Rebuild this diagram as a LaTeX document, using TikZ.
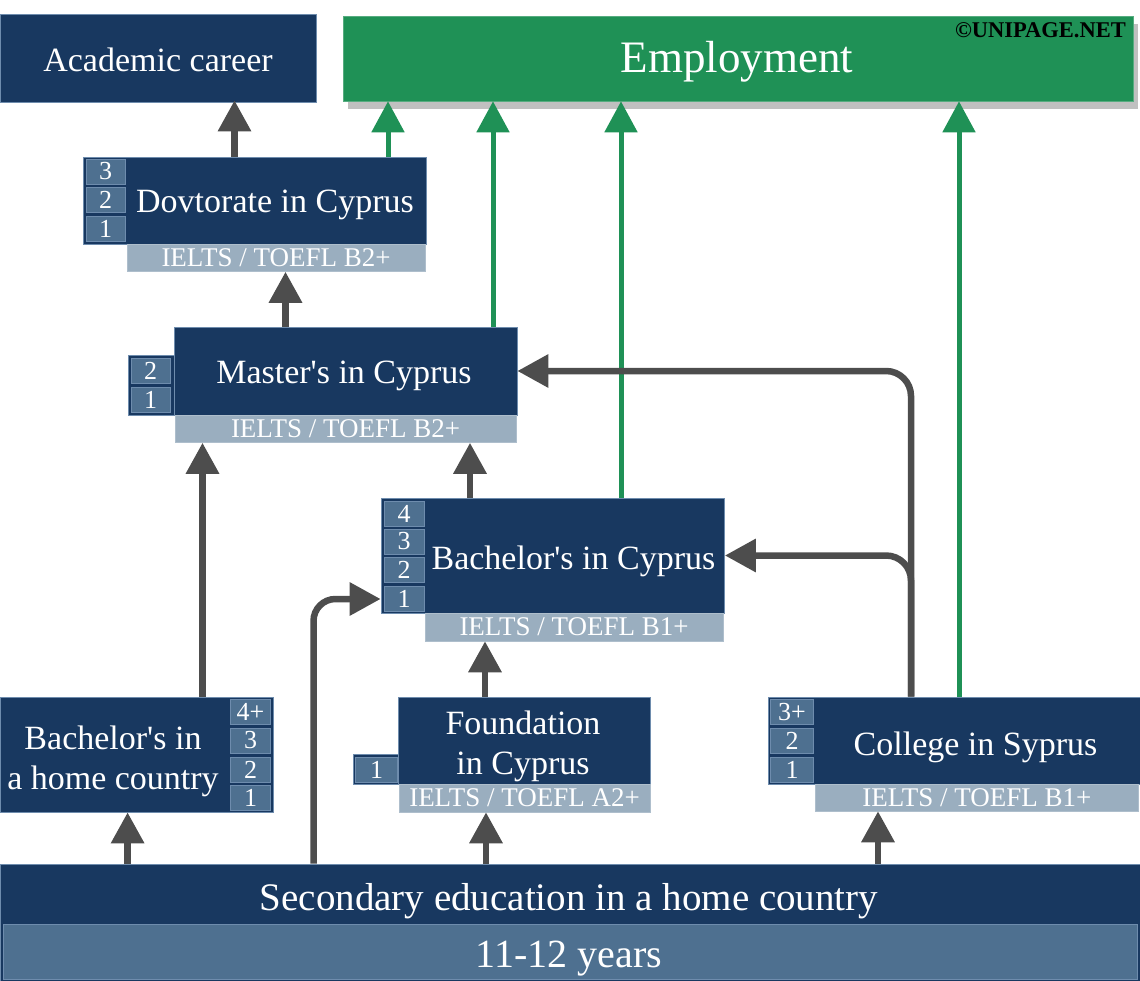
\documentclass[tikz,border=0pt]{standalone}
\usepackage{fontspec}
\setmainfont{Liberation Serif}[Ligatures=TeXOff]
\usetikzlibrary{arrows.meta}
\definecolor{navy}{HTML}{183860}
\definecolor{navyedge}{HTML}{6E8CAD}
\definecolor{cellc}{HTML}{4E7090}
\definecolor{ieltsc}{HTML}{9AAEBF}
\definecolor{grn}{HTML}{1F9156}
\definecolor{agray}{HTML}{4D4D4D}
\definecolor{shadowc}{HTML}{C0C0C0}
\begin{document}
\begin{tikzpicture}[x=1pt,y=-1pt,
  box/.style={fill=navy, draw=navyedge, line width=0.8pt, inner sep=0pt, text=white, font=\fontsize{34}{40}\selectfont},
  lbl/.style={inner sep=0pt, text=white, align=center, font=\fontsize{34}{40}\selectfont},
  ielts/.style={fill=ieltsc, draw=ieltsc!80!white, line width=0.6pt, inner sep=0pt, text=white, font=\fontsize{27}{30}\selectfont},
  cell/.style={fill=cellc, draw=navyedge, line width=0.6pt, inner sep=0pt, minimum width=39pt, minimum height=25pt, text=white, font=\fontsize{26}{30}\selectfont},
  garrow/.style={draw=agray, line width=6.5pt, -{Triangle[width=32pt,length=31pt]}},
  grnarrow/.style={draw=grn, line width=5pt, -{Triangle[width=32pt,length=31pt]}}]
\useasboundingbox (0,0) rectangle (1140,981);

% top row
\node[box, minimum width=316pt, minimum height=88pt] (acad) at (158,58) {};
\node[lbl] (acadT) at (158,60) {Academic career};
\fill[shadowc] (348,24) rectangle (1138,109);
\node[fill=grn, draw=grn!75!white, line width=0.6pt, inner sep=0pt, minimum width=790pt, minimum height=85pt] (emp) at (738,58.5) {};
\node[inner sep=0pt, text=white, font=\fontsize{45}{50}\selectfont] (empT) at (737,62) {Employment};
\node[anchor=base east, inner sep=0pt, font=\fontsize{22.5}{26}\selectfont\bfseries] (copy) at (1126,38) {©UNIPAGE.NET};

% Doctorate
\node[box, minimum width=343pt, minimum height=87pt] (doc) at (254.5,200.5) {};
\node[lbl] (docT) at (275,205) {Dovtorate in Cyprus};
\node[cell] (doc3) at (105.5,171.5) {3};
\node[cell] (doc2) at (105.5,200) {2};
\node[cell] (doc1) at (105.5,228.5) {1};
\node[ielts, minimum width=298pt, minimum height=27pt] (docI) at (276,258) {IELTS / TOEFL B2+};

% Master
\node[box, minimum width=46pt, minimum height=60pt] (masTab) at (151,385) {};
\node[box, minimum width=343pt, minimum height=88pt] (mas) at (345.5,371) {};
\node[lbl] (masT) at (344,376) {Master's in Cyprus};
\node[cell] (mas2) at (150.5,370.5) {2};
\node[cell] (mas1) at (150.5,399.5) {1};
\node[ielts, minimum width=341pt, minimum height=27pt] (masI) at (345.5,429) {IELTS / TOEFL B2+};

% Bachelor in Cyprus
\node[box, minimum width=343.5pt, minimum height=115pt] (bcy) at (552.75,555.5) {};
\node[lbl] (bcyT) at (573.5,561) {Bachelor's in Cyprus};
\node[cell, minimum width=40pt] (bcy4) at (404,513.5) {4};
\node[cell, minimum width=40pt] (bcy3) at (404,541.5) {3};
\node[cell, minimum width=40pt] (bcy2) at (404,570) {2};
\node[cell, minimum width=40pt] (bcy1) at (404,599) {1};
\node[ielts, minimum width=298pt, minimum height=28pt] (bcyI) at (574,627) {IELTS / TOEFL B1+};

% Bachelor home
\node[box, minimum width=273pt, minimum height=115pt] (bh) at (136.5,754.5) {};
\node[lbl] (bhT) at (113,761) {Bachelor's in\\a home country};
\node[cell, minimum width=40pt] (bh4) at (250.5,712) {4+};
\node[cell, minimum width=40pt] (bh3) at (250.5,740.5) {3};
\node[cell, minimum width=40pt] (bh2) at (250.5,769.5) {2};
\node[cell, minimum width=40pt] (bh1) at (250.5,797.5) {1};

% Foundation
\node[box, minimum width=45.5pt, minimum height=30pt] (foTab) at (375.75,769) {};
\node[box, minimum width=251.5pt, minimum height=87pt] (fo) at (524.25,740.5) {};
\node[lbl] (foT) at (523,746) {Foundation\\in Cyprus};
\node[cell, minimum width=42pt] (fo1) at (376.5,769.5) {1};
\node[ielts, minimum width=251pt, minimum height=28pt] (foI) at (524.5,798) {IELTS / TOEFL A2+};

% College
\node[box, minimum width=373pt, minimum height=87pt] (col) at (954.5,740.5) {};
\node[lbl] (colT) at (975.5,747) {College in Syprus};
\node[cell, minimum width=43pt] (col3) at (792,712) {3+};
\node[cell, minimum width=43pt] (col2) at (792,740.5) {2};
\node[cell, minimum width=43pt] (col1) at (792,769.5) {1};
\node[ielts, minimum width=322.5pt, minimum height=27pt] (colI) at (976.75,797.5) {IELTS / TOEFL B1+};

% Secondary
\node[box, minimum width=1140pt, minimum height=117pt] (sec) at (570,922.5) {};
\node[lbl, font=\fontsize{39}{44}\selectfont] (secT) at (569,901) {Secondary education in a home country};
\node[fill=cellc, draw=navyedge, line width=0.6pt, inner sep=0pt, minimum width=1134pt, minimum height=55pt] (secB) at (570,951.5) {};
\node[lbl, font=\fontsize{40}{44}\selectfont] (secBT) at (569,959) {11-12 years};

% green arrows
\draw[grnarrow] (388,0 |- doc.north) -- (388,0 |- emp.south);
\draw[grnarrow] (493,0 |- mas.north) -- (493,0 |- emp.south);
\draw[grnarrow] (621,0 |- bcy.north) -- (621,0 |- emp.south);
\draw[grnarrow] (959,0 |- col.north) -- (959,0 |- emp.south);

% gray arrows
\draw[garrow, shorten >=-2pt] (234.5,0 |- doc.north) -- (234.5,0 |- acad.south);
\draw[garrow] (285.5,0 |- mas.north) -- (285.5,0 |- docI.south);
\draw[garrow] (202.5,0 |- bh.north) -- (202.5,0 |- masI.south);
\draw[garrow] (470,0 |- bcy.north) -- (470,0 |- masI.south);
\draw[garrow] (485,0 |- fo.north) -- (485,0 |- bcyI.south);
\draw[garrow] (127.6,0 |- sec.north) -- (127.6,0 |- bh.south);
\draw[garrow] (486,0 |- sec.north) -- (486,0 |- foI.south);
\draw[garrow] (878,0 |- sec.north) -- (878,0 |- colI.south);
\draw[garrow, rounded corners=22pt] (313.5,0 |- sec.north) |- (bcy.west |- bcy1);
\draw[garrow, rounded corners=25pt] (911,0 |- col.north) |- (mas.east);
\draw[garrow, rounded corners=25pt] (911,0 |- col.north) |- (bcy.east);
\end{tikzpicture}
\end{document}
